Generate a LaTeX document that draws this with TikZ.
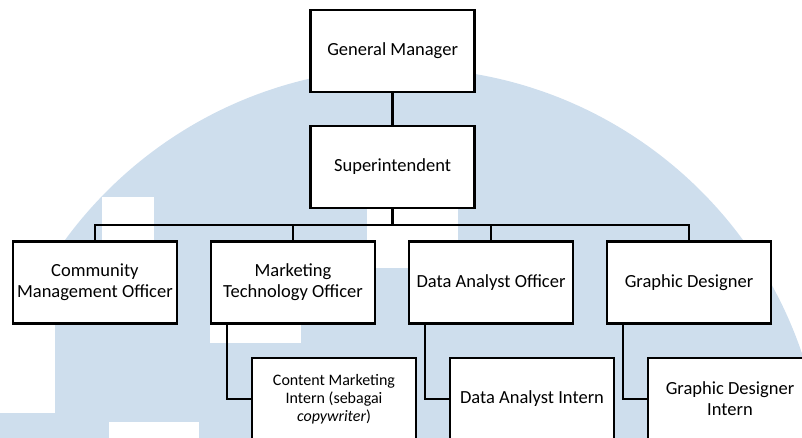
\documentclass[tikz,border=0pt]{standalone}
\usepackage{fontspec}
\setmainfont{Carlito}
\definecolor{wmblue}{RGB}{206,222,237}
\tikzset{
  orgbox/.style={draw=black, line width=2.3pt, fill=white,
    minimum width=164pt, minimum height=82pt, inner sep=0pt, align=center,
    font=\fontsize{18.5}{21}\selectfont},
  smallbox/.style={orgbox, font=\fontsize{16}{18}\selectfont},
  link/.style={draw=black, line width=2.3pt}
}
\begin{document}
\begin{tikzpicture}[x=1pt,y=-1pt]
\useasboundingbox (0,0) rectangle (802,437);
\clip (0,0) rectangle (802,437);
% watermark dome with its white cut-outs
\fill[wmblue] (404,488) circle[radius=420pt];
\fill[white] (0,0) rectangle (55,413);
\fill[white] (102,197) rectangle (154,280);
\fill[white] (210,300) rectangle (301,343);
\fill[white] (367,200) rectangle (458,268);
\fill[white] (109,422) rectangle (199,440);

% boxes
\node[orgbox] (gm)  at (392.6,50.7)  {General Manager};
\node[orgbox] (sup) at (392.6,166.7) {Superintendent};
\node[orgbox] (cmo) at (94.9,282.5)  {Community\\Management Officer};
\node[orgbox] (mto) at (293,282.5)   {Marketing\\Technology Officer};
\node[orgbox] (dao) at (491,282.5)   {Data Analyst Officer};
\node[orgbox] (gd)  at (689,282.5)   {Graphic Designer};
\node[smallbox] (cmi) at (334,399) {Content Marketing\\Intern (sebagai\\\textit{copywriter})};
\node[orgbox] (dai) at (532,399) {Data Analyst Intern};
\node[orgbox] (gdi) at (730,399) {Graphic Designer\\Intern};

% connectors
\coordinate (bar) at (392.6,225);
\draw[link] (gm) -- (sup);
\draw[link] (sup.south) -- (bar);
\draw[link] (bar) -| (cmo.north);
\draw[link] (bar) -| (mto.north);
\draw[link] (bar) -| (dao.north);
\draw[link] (bar) -| (gd.north);
\draw[link] ([xshift=17pt]mto.south west) |- (cmi.west);
\draw[link] ([xshift=17pt]dao.south west) |- (dai.west);
\draw[link] ([xshift=17pt]gd.south west) |- (gdi.west);
\end{tikzpicture}
\end{document}
